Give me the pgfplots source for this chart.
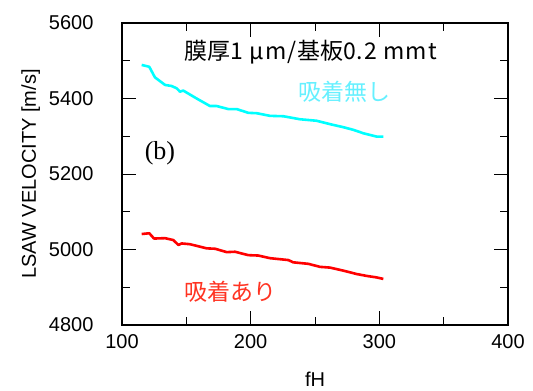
\documentclass[border=0pt]{standalone}
\usepackage{fontspec}
\setmainfont{Liberation Sans}
\newfontfamily\cjk{Noto Sans CJK JP}
\newfontfamily\cjkls[LetterSpace=5]{Noto Sans CJK JP}
\newfontfamily\serif{Liberation Serif}
\usepackage{pgfplots}
\pgfplotsset{compat=1.18}
\definecolor{lcyan}{HTML}{66F0FF}
\definecolor{lred}{HTML}{FF3322}
\definecolor{cyanline}{RGB}{0,255,255}
\definecolor{redline}{RGB}{255,0,0}
\begin{document}
\begin{tikzpicture}[x=1pt,y=1pt]
\begin{axis}[
  name=ax,
  scale only axis,
  width=386pt, height=302pt,
  xmin=100, xmax=400, ymin=4800, ymax=5600,
  xtick={100,200,300,400},
  ytick={4800,5000,5200,5400,5600},
  minor xtick={150,250,350},
  minor ytick={4900,5100,5300,5500},
  tick align=inside,
  major tick length=14pt,
  minor tick length=8pt,
  every tick/.style={black, line width=0.9pt},
  axis line style={line width=2.4pt},
  tick label style={font=\fontsize{20}{22}\selectfont},
  /pgf/number format/assume math mode=true,
  /pgf/number format/1000 sep={},
  yticklabel style={xshift=-25pt},
  xticklabel style={yshift=-6pt},
  xlabel={fH},
  ylabel={LSAW VELOCITY [m/s]},
  label style={font=\fontsize{20}{22}\selectfont},
  xlabel style={yshift=-16pt},
  ylabel style={yshift=2pt},
  clip=false,
]
\addplot[color=cyanline, line width=2.6pt, line join=round] coordinates {
(115.3,5489) (121.2,5484) (125.6,5456) (133.4,5436) (138.6,5433) (142.5,5427)
(145.1,5418) (147.6,5421) (158,5400) (168.4,5380) (173.6,5380) (182.6,5372)
(189.1,5372) (198.2,5362) (204.7,5361) (215,5354) (225.4,5353) (238.3,5345)
(251.3,5341) (261.7,5332) (272,5324) (279.8,5317) (287.5,5308) (297.9,5299) (303.1,5299)
};
\addplot[color=redline, line width=2.6pt, line join=round] coordinates {
(115.3,5041) (121.2,5043) (124.9,5029) (133.4,5030) (139.9,5025) (143.8,5012)
(146.4,5016) (152.8,5014) (165.8,5003) (172.3,5002) (181.4,4993) (187.8,4994)
(198.2,4985) (205.9,4984) (215,4977) (229.3,4972) (233.1,4966) (244.8,4962)
(253.9,4954) (261.7,4952) (272,4944) (282.4,4935) (290.2,4930) (297.9,4926) (303.1,4922)
};
\node[font=\fontsize{23}{26}\selectfont\cjk] at (axis cs:246.9,5523) {膜厚{\cjkls 1 μm/}基板{\cjkls 0.2 mmt}};
\node[font=\fontsize{23}{26}\selectfont\cjk, text=lcyan] at (axis cs:273.3,5417) {吸着無し};
\node[font=\fontsize{26}{28}\selectfont\serif] at (axis cs:129.5,5256) {(b)};
\node[font=\fontsize{23}{26}\selectfont\cjk, text=lred] at (axis cs:184,4887) {吸着あり};
\end{axis}
\pgfresetboundingbox
\path ([shift={(-122pt,-66pt)}]ax.south west) rectangle ([shift={(25pt,23pt)}]ax.north east);
\end{tikzpicture}
\end{document}
